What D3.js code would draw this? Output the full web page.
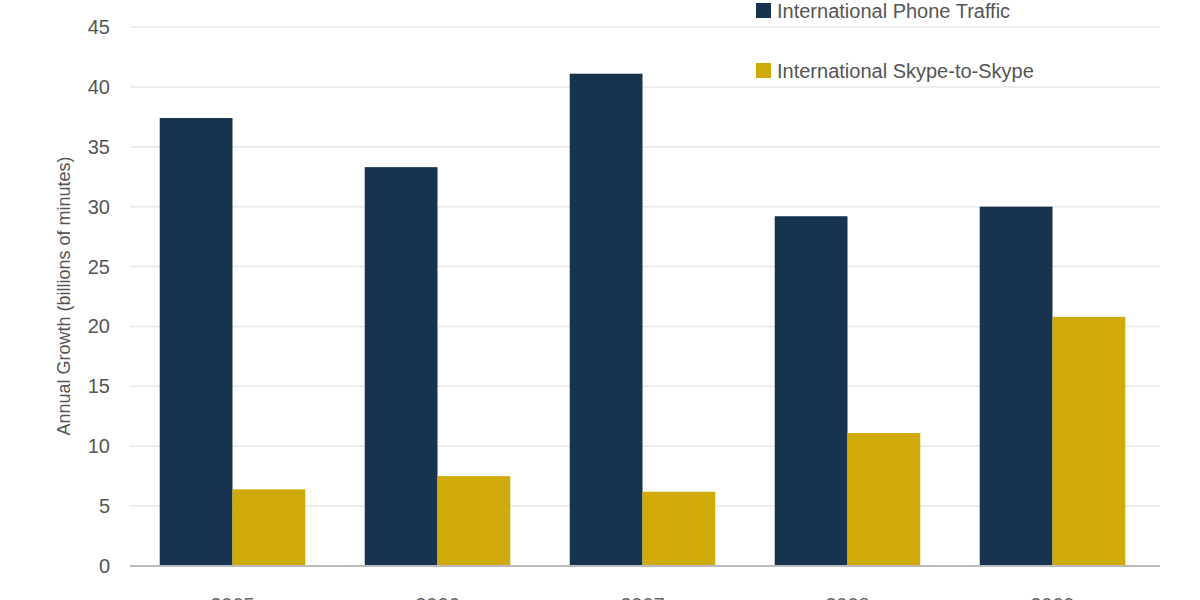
<!DOCTYPE html>
<html><head><meta charset="utf-8">
<script src="https://cdn.jsdelivr.net/npm/d3@7"></script>
<style>body{margin:0;background:#fff}svg{font-family:"Liberation Sans",Arial,sans-serif}</style>
</head><body><svg width="1200" height="600"></svg>
<script>
const years = ["2005","2006","2007","2008","2009"];
const phone = [37.4,33.3,41.1,29.2,30.0];
const skype = [6.4,7.5,6.2,11.1,20.8];
const seriesNames = ["International Phone Traffic","International Skype-to-Skype"];
const colors = ["#17334f","#cfaa08"];
const yTicks = [0,5,10,15,20,25,30,35,40,45];

const svg = d3.select("svg");
const x = d3.scaleBand().domain(years).range([130,1155]).paddingInner(0.29).paddingOuter(0.145);
const y = d3.scaleLinear().domain([0,45]).range([566,27]);
const x1 = d3.scaleBand().domain([0,1]).range([0,x.bandwidth()]);

svg.append("g").selectAll("line").data(yTicks.slice(1)).join("line")
 .attr("x1",130).attr("x2",1160).attr("y1",d=>y(d)).attr("y2",d=>y(d))
 .attr("stroke","#e8e8e8").attr("stroke-width",1.5);
svg.append("g").selectAll("text").data(yTicks).join("text")
 .attr("x",110).attr("y",d=>y(d)+7).attr("text-anchor","end")
 .attr("font-size",20).attr("fill","#555").text(d=>d);

const data = [phone,skype];
data.forEach((arr,s)=>{
 svg.append("g").selectAll("rect").data(arr).join("rect")
  .attr("x",(d,i)=>x(years[i])+x1(s)).attr("width",x1.bandwidth())
  .attr("y",d=>y(d)).attr("height",d=>y(0)-y(d)).attr("fill",colors[s]);
});
svg.append("line").attr("x1",130).attr("x2",1160).attr("y1",y(0)).attr("y2",y(0))
 .attr("stroke","#bbb").attr("stroke-width",2);

svg.append("g").selectAll("text").data(years).join("text")
 .attr("x",d=>x(d)+x.bandwidth()/2).attr("y",612).attr("text-anchor","middle")
 .attr("font-size",20).attr("fill","#666").text(d=>d);

svg.append("text").attr("transform","translate(70,296) rotate(-90)")
 .attr("text-anchor","middle").attr("font-size",18).attr("fill","#555")
 .text("Annual Growth (billions of minutes)");

seriesNames.forEach((n,i)=>{
 const yy = 11 + i*60;
 svg.append("rect").attr("x",756).attr("y",yy-8).attr("width",15).attr("height",15).attr("fill",colors[i]);
 svg.append("text").attr("x",777).attr("y",yy+7).attr("font-size",20).attr("fill","#555").text(n);
});
</script></body></html>
